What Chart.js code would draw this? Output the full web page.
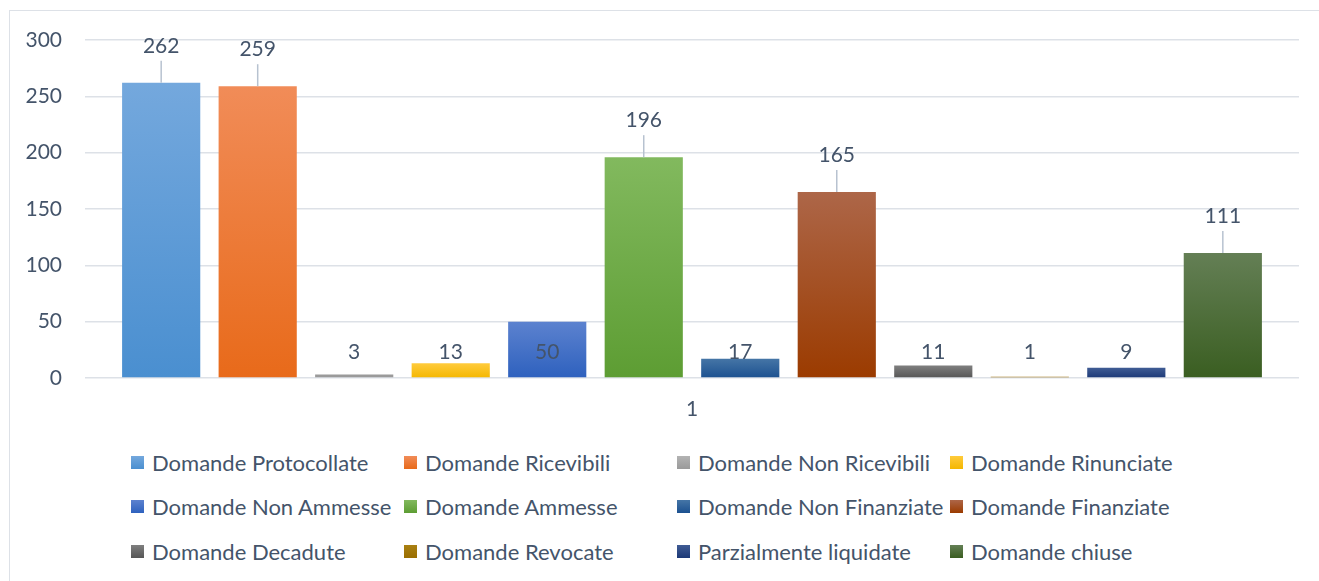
<!DOCTYPE html>
<html>
<head>
<meta charset="utf-8">
<script src="https://cdn.jsdelivr.net/npm/chart.js@4"></script>
<style>
  html, body { margin: 0; padding: 0; background: #fff; width: 1319px; height: 581px; overflow: hidden; }
  #frame { position: absolute; left: 9px; top: 10px; width: 1400px; height: 700px; border: 1.5px solid #dde1e7; box-sizing: border-box; }
  #wrap { position: absolute; left: 0; top: 0; width: 1319px; height: 440px; }
  #legend { position: absolute; left: 131px; top: 440px; display: grid; grid-template-columns: repeat(4, 273px); grid-auto-rows: 44.5px; font-family: Lato, "Noto Sans", sans-serif; font-size: 22px; color: #44546a; }
  .item { display: flex; align-items: center; white-space: nowrap; }
  .box { width: 13px; height: 13px; margin-right: 8px; flex: none; }
</style>
</head>
<body>
<div id="frame"></div>
<div id="wrap"><canvas id="c" width="1319" height="440"></canvas></div>
<div id="legend"></div>
<script>
const categories = ["1"];
const seriesNames = [
  "Domande Protocollate", "Domande Ricevibili", "Domande Non Ricevibili", "Domande Rinunciate",
  "Domande Non Ammesse", "Domande Ammesse", "Domande Non Finanziate", "Domande Finanziate",
  "Domande Decadute", "Domande Revocate", "Parzialmente liquidate", "Domande chiuse"
];
const seriesValues = [262, 259, 3, 13, 50, 196, 17, 165, 11, 1, 9, 111];
const yTicks = [0, 50, 100, 150, 200, 250, 300];
const colorsTop = ["#74a8dd", "#f18c58", "#b3b3b3", "#ffcb3c", "#5c82cf", "#82b95e", "#4575a6", "#ad6648", "#7f7f7f", "#a98012", "#405c94", "#647f55"];
const colorsBottom = ["#4a8fd0", "#e86a1a", "#9a9a9a", "#f4b700", "#2e61be", "#5d9d33", "#1c5190", "#9b3b00", "#565656", "#9a6e00", "#1c3977", "#3a5e21"];

const FONT = 'Lato, "Noto Sans", sans-serif';
const TXT = '#44546a';

function barFill(i) {
  return function(ctx) {
    const ch = ctx.chart;
    const ys = ch.scales && ch.scales.y;
    if (!ys || !ch.chartArea || ctx.type !== 'data') return colorsBottom[i];
    const top = ys.getPixelForValue(ctx.raw);
    const bot = ys.getPixelForValue(0);
    if (!isFinite(top) || !isFinite(bot) || bot - top < 4) return colorsBottom[i];
    const g = ch.ctx.createLinearGradient(0, top, 0, bot);
    g.addColorStop(0, colorsTop[i]);
    g.addColorStop(1, colorsBottom[i]);
    return g;
  };
}

const datasets = seriesNames.map((name, i) => ({
  label: name,
  data: [seriesValues[i]],
  backgroundColor: barFill(i),
  borderWidth: 0,
  categoryPercentage: 0.954,
  barPercentage: 0.81
}));

const labelPlugin = {
  id: 'valueLabels',
  afterDatasetsDraw(chart) {
    const c = chart.ctx;
    const ys = chart.scales.y;
    c.save();
    c.font = '21px ' + FONT;
    c.fillStyle = TXT;
    c.textAlign = 'center';
    c.textBaseline = 'middle';
    chart.data.datasets.forEach((ds, i) => {
      const meta = chart.getDatasetMeta(i);
      const el = meta.data[0];
      if (!el) return;
      const v = ds.data[0];
      let ly;
      if (v > 100) {
        ly = el.y - 37;
        c.strokeStyle = '#b7c2d0';
        c.lineWidth = 1.5;
        c.beginPath();
        c.moveTo(el.x, ly + 15);
        c.lineTo(el.x, el.y);
        c.stroke();
      } else {
        ly = ys.getPixelForValue(23);
      }
      c.fillText(String(v), el.x, ly);
    });
    c.restore();
  }
};

new Chart(document.getElementById('c'), {
  type: 'bar',
  data: { labels: categories, datasets },
  options: {
    responsive: false,
    animation: false,
    layout: { padding: { left: 10, right: 20, top: 40, bottom: 0 } },
    plugins: { legend: { display: false }, tooltip: { enabled: false } },
    scales: {
      x: {
        grid: { display: false, drawTicks: false },
        border: { display: false },
        ticks: { color: TXT, font: { family: FONT, size: 21 }, padding: 19 },
        afterFit: s => { s.height = 62; }
      },
      y: {
        min: 0, max: 300,
        afterBuildTicks: s => { s.ticks = yTicks.map(v => ({ value: v })); },
        grid: { color: '#dde1e7', lineWidth: 1.5, drawTicks: false },
        border: { display: false },
        ticks: { color: TXT, font: { family: FONT, size: 21 }, padding: 23 },
        afterFit: s => { s.width = 75; }
      }
    }
  },
  plugins: [labelPlugin]
});

const leg = document.getElementById('legend');
seriesNames.forEach((name, i) => {
  const it = document.createElement('div');
  it.className = 'item';
  const b = document.createElement('span');
  b.className = 'box';
  b.style.background = 'linear-gradient(' + colorsTop[i] + ',' + colorsBottom[i] + ')';
  const t = document.createElement('span');
  t.textContent = name;
  it.appendChild(b); it.appendChild(t);
  leg.appendChild(it);
});
</script>
</body>
</html>
